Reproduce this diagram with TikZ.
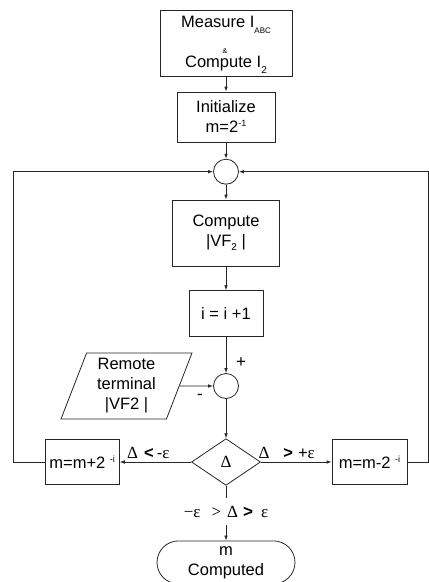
\documentclass[tikz,border=0pt]{standalone}
\usepackage{fontspec}
\setmainfont{Liberation Sans}
\newfontfamily\grk{Liberation Serif}
\newfontfamily\arl{Liberation Sans}
\usetikzlibrary{arrows.meta,shapes.geometric}
\newcommand\supx[1]{\raisebox{6pt}{\fontsize{9}{9}\selectfont #1}}
\newcommand\subx[2]{\raisebox{#1}{\fontsize{10}{10}\selectfont #2}}
\begin{document}
\begin{tikzpicture}[x=1pt,y=-1pt,
  every node/.style={font=\fontsize{16.5}{20}\selectfont, text=black},
  ln/.style={draw=black!85, line width=0.8pt},
  arr/.style={ln, -{Latex[length=5pt,width=3.6pt]}},
  box/.style={draw=black!85, line width=0.8pt, inner sep=0pt, align=center},
  sumc/.style={circle, draw=black!85, line width=0.8pt, minimum size=25pt, inner sep=0pt},
  txt/.style={inner sep=0pt, anchor=base},
  gtxt/.style={inner sep=0pt, font=\grk\fontsize{17}{17}\selectfont},
]
\useasboundingbox (0,0) rectangle (429,582);

% boxes
\node[box, minimum width=132pt, minimum height=66pt] (meas) at (226,43) {};
\node[txt] (meas1) at (226,27.3) {Measure I\raisebox{-6pt}{\fontsize{8}{8}\selectfont ABC}};
\node[txt, font=\fontsize{7}{7}\selectfont] (meas2) at (225,53.3) {\&};
\node[txt] (meas3) at (226,67) {Compute I\raisebox{-6pt}{\fontsize{10}{10}\selectfont 2}};

\node[box, minimum width=98pt, minimum height=50pt] (init) at (226,117) {Initialize\\m=2\supx{-1}};
\node[sumc] (s1) at (226,171.7) {};
\node[box, minimum width=107pt, minimum height=66pt] (comp) at (226,233) {Compute\\|VF\subx{-4pt}{2} |};
\node[box, minimum width=74pt, minimum height=45.3pt] (inc) at (226,313.3) {i = i +1};
\node[sumc] (s2) at (226,386) {};
\node[trapezium, trapezium left angle=65, trapezium right angle=115,
      trapezium stretches body, draw=black!85, line width=0.8pt,
      minimum width=131pt, minimum height=66pt, inner sep=0pt, align=center]
      (rem) at (126.5,386) {Remote\\terminal\\|VF2 |};
\node[diamond, draw=black!85, line width=0.8pt, minimum width=69pt, minimum height=46.7pt,
      inner sep=0pt, font=\grk\fontsize{17}{17}\selectfont] (dec) at (226,462) {Δ};
\node[box, minimum width=74.3pt, minimum height=45pt] (lft) at (82.2,462) {m=m+2 \supx{-i}};
\node[box, minimum width=75pt, minimum height=45pt] (rgt) at (369.5,462) {m=m-2 \supx{-i}};
\node[draw=black!85, line width=0.8pt, rounded corners=21.5pt, minimum width=138pt,
      minimum height=43pt, inner sep=0pt, align=center] (term) at (226,562.4) {m\\Computed};

% labels
\node[txt, anchor=base west, font=\fontsize{16.5}{17}\selectfont] (lblL) at (127,458.3)
  {{\grk\fontsize{17}{17}\selectfont Δ}\hspace{6pt}{\bfseries <}\hspace{3pt}-{\grk\fontsize{17}{17}\selectfont ε}};
\node[txt, anchor=base west, font=\fontsize{16.5}{17}\selectfont] (lblR) at (258.3,458.3)
  {{\grk\fontsize{17}{17}\selectfont Δ}\hspace{14pt}{\bfseries >}\hspace{5pt}+{\grk\fontsize{17}{17}\selectfont ε}};
\node[gtxt, fill=white, minimum height=27pt] (cond) at (226,511.5)
  {−ε\hspace{11pt}>\hspace{6pt}Δ\hspace{5pt}{\arl\bfseries >}\hspace{8pt}ε};
\node[inner sep=0pt, font=\fontsize{17}{17}\selectfont] (plus) at (241,363) {+};
\node[inner sep=0pt, font=\fontsize{17}{17}\selectfont] (minus) at (200,397) {-};

% connectors
\coordinate (lcorner) at (13,171.7);
\coordinate (rcorner) at (428.6,171.7);
\draw[arr] (meas) -- (init);
\draw[arr] (init) -- (s1);
\draw[arr] (s1) -- (comp);
\draw[arr] (comp) -- (inc);
\draw[arr] (inc) -- (s2);
\draw[arr] (rem.east) -- (s2);
\draw[arr] (s2) -- (dec);
\draw[arr] (dec) -- (lft);
\draw[arr] (dec) -- (rgt);
\draw[arr] (lft.west) -| (lcorner) -- (s1.west);
\draw[arr] (rgt.east) -| (rcorner) -- (s1.east);
\draw[ln] (dec) -- (cond);
\draw[arr] (cond) -- (term);
\end{tikzpicture}
\end{document}
